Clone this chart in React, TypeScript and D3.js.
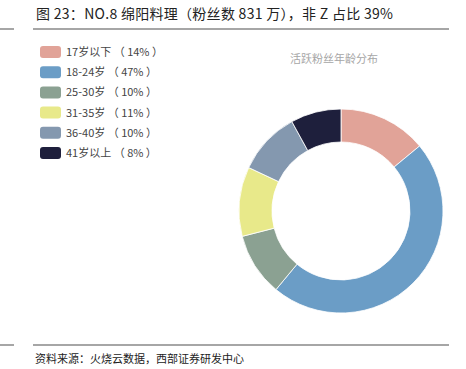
import React from "react";
import * as d3 from "d3";

const categories = ["17岁以下", "18-24岁", "25-30岁", "31-35岁", "36-40岁", "41岁以上"];
const values = [14, 47, 10, 11, 10, 8];
const colors = ["#E1A398", "#6B9DC6", "#8BA192", "#E8E98A", "#8498AF", "#1E1F3C"];

const titleText = "图 23：NO.8 绵阳料理（粉丝数 831 万），非 Z 占比 39%";
const chartTitle = "活跃粉丝年龄分布";
const sourceText = "资料来源：火烧云数据，西部证券研发中心";

export default function App() {
  const W = 466, H = 369;
  const cx = 341, cy = 211, outerR = 102, innerR = 69;
  const pie = d3.pie<number>().sort(null).value((d) => d)(values);
  const arc = d3.arc<d3.PieArcDatum<number>>().innerRadius(innerR).outerRadius(outerR);
  const font = "'Noto Sans CJK SC', 'Noto Sans', sans-serif";
  return (
    <svg width={W} height={H} style={{ position: "absolute", left: 0, top: 0 }} fontFamily={font}>
      <rect width={W} height={H} fill="#fff" />
      <text x={36} y={19} fontSize={14} fill="#222" textLength={357} lengthAdjust="spacing">{titleText}</text>
      <line x1={0} x2={14} y1={29} y2={29} stroke="#888" strokeWidth={1.5} />
      <line x1={33} x2={449} y1={29} y2={29} stroke="#888" strokeWidth={1.5} />
      <text x={334} y={63} fontSize={11} fill="#a6a6a6" textAnchor="middle">{chartTitle}</text>
      <g transform={`translate(${cx},${cy})`}>
        {pie.map((p, i) => (
          <path key={i} d={arc(p) || ""} fill={colors[i]} stroke="#fff" strokeWidth={0.8} />
        ))}
      </g>
      {categories.map((c, i) => (
        <g key={c} transform={`translate(40, ${52 + i * 20.2})`}>
          <rect x={0} y={-6} width={21} height={12} rx={3} fill={colors[i]} />
          <text x={26} y={4} fontSize={11} fill="#444" xmlSpace="preserve">{`${c} （ ${values[i]}% ）`}</text>
        </g>
      ))}
      <line x1={0} x2={14} y1={345} y2={345} stroke="#888" strokeWidth={1.5} />
      <line x1={33} x2={449} y1={345} y2={345} stroke="#888" strokeWidth={1.5} />
      <text x={35} y={363} fontSize={11} fill="#222">{sourceText}</text>
    </svg>
  );
}
